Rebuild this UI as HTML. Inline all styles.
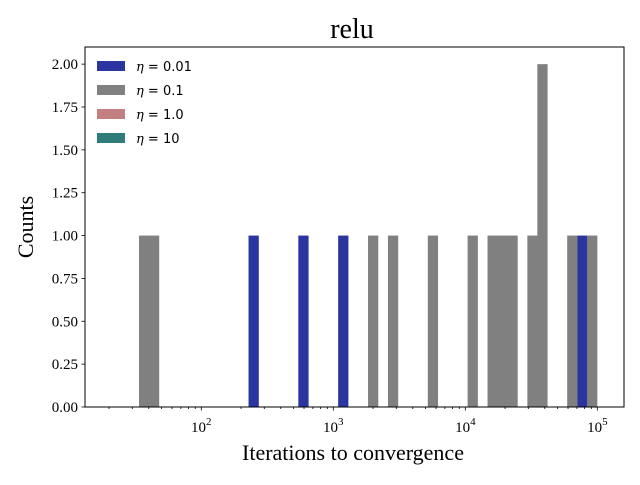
<!DOCTYPE html>
<html><head><meta charset="utf-8"><style>
body{margin:0;background:#fff}
svg{font-family:"Liberation Serif",serif}
</style></head><body>
<svg id="chart" width="640" height="480">
<text x="352" y="38" font-size="28" text-anchor="middle">relu</text>
<g id="bars"></g>
<rect x="85" y="47" width="539" height="360" fill="none" stroke="#000" stroke-width="1"/>
<g id="axes"></g>
<text x="353" y="460" font-size="22" text-anchor="middle">Iterations to convergence</text>
<text transform="translate(33,227) rotate(-90)" font-size="22" text-anchor="middle">Counts</text>
<g id="legend" font-family="DejaVu Sans, sans-serif" font-size="13"></g>
</svg>
<script>
const binStartLog = 1.528;
const binEndLog = 4.998;
const binCount = 46;
const blueBins = [11,16,20,44];
const blueCounts = [1,1,1,1];
const grayBins = [0,1,23,25,29,33,35,36,37,39,40,43,45];
const grayCounts = [1,1,1,1,1,1,1,1,1,1,2,1,1];
const yTicks = [0,0.25,0.5,0.75,1.0,1.25,1.5,1.75,2.0];
const yTickLabels = ["0.00","0.25","0.50","0.75","1.00","1.25","1.50","1.75","2.00"];
const xDecades = [2,3,4,5];
const legendLabels = ["0.01","0.1","1.0","10"];
const legendColors = ["#2a35a0","#808080","#c48080","#2e7d7a"];

const NS="http://www.w3.org/2000/svg";
const X0=85,X1=624,Y0=407,Y1=47;
const logMin=1.119, logMax=5.202;
function xs(l){return X0+(l-logMin)/(logMax-logMin)*(X1-X0);}
function ys(v){return Y0-v/2.1*(Y0-Y1);}
const bw=(binEndLog-binStartLog)/binCount;
const bars=document.getElementById('bars');
function drawSeries(bins,counts,color,name){
  bins.forEach((b,i)=>{
    const r=document.createElementNS(NS,'rect');
    const xa=xs(binStartLog+b*bw), xb=xs(binStartLog+(b+1)*bw);
    r.setAttribute('x',xa);r.setAttribute('width',xb-xa+0.3);
    r.setAttribute('y',ys(counts[i]));r.setAttribute('height',Y0-ys(counts[i]));
    r.setAttribute('fill',color);
    
    
    bars.appendChild(r);
  });
}
drawSeries(blueBins,blueCounts,legendColors[0],'eta-0.01');
drawSeries(grayBins,grayCounts,legendColors[1],'eta-0.1');
const axes=document.getElementById('axes');
function line(x1,y1,x2,y2){const l=document.createElementNS(NS,'line');l.setAttribute('x1',x1);l.setAttribute('y1',y1);l.setAttribute('x2',x2);l.setAttribute('y2',y2);l.setAttribute('stroke','#000');l.setAttribute('stroke-width','0.8');axes.appendChild(l);return l;}
yTicks.forEach((v,i)=>{
  const y=ys(v);line(X0-3.5,y,X0,y);
  const t=document.createElementNS(NS,'text');t.setAttribute('x',X0-7);t.setAttribute('y',y+5);t.setAttribute('text-anchor','end');t.setAttribute('font-size','15');t.textContent=yTickLabels[i];
  
  
  axes.appendChild(t);
});
for(let d=1;d<=5;d++){for(let m=2;m<=9;m++){const l=d+Math.log10(m);if(l>logMin&&l<logMax)line(xs(l),Y0,xs(l),Y0+2);}}
xDecades.forEach(d=>{
  const x=xs(d);line(x,Y0,x,Y0+3.5);
  const t=document.createElementNS(NS,'text');t.setAttribute('x',x);t.setAttribute('y',Y0+25);t.setAttribute('text-anchor','middle');t.setAttribute('font-size','15');
  t.innerHTML='10<tspan dy="-7" font-size="11">'+d+'</tspan>';
  
  
  axes.appendChild(t);
});
const lg=document.getElementById('legend');
legendLabels.forEach((s,i)=>{
  const y=66+i*24;
  const r=document.createElementNS(NS,'rect');r.setAttribute('x',97);r.setAttribute('y',y-5);r.setAttribute('width',28);r.setAttribute('height',10);r.setAttribute('fill',legendColors[i]);
  
  
  lg.appendChild(r);
  const t=document.createElementNS(NS,'text');t.setAttribute('x',136);t.setAttribute('y',y+5);
  t.innerHTML='<tspan font-style="italic" font-family="DejaVu Serif, serif">η</tspan> = '+s;
  
  
  lg.appendChild(t);
});
</script>
</body></html>
